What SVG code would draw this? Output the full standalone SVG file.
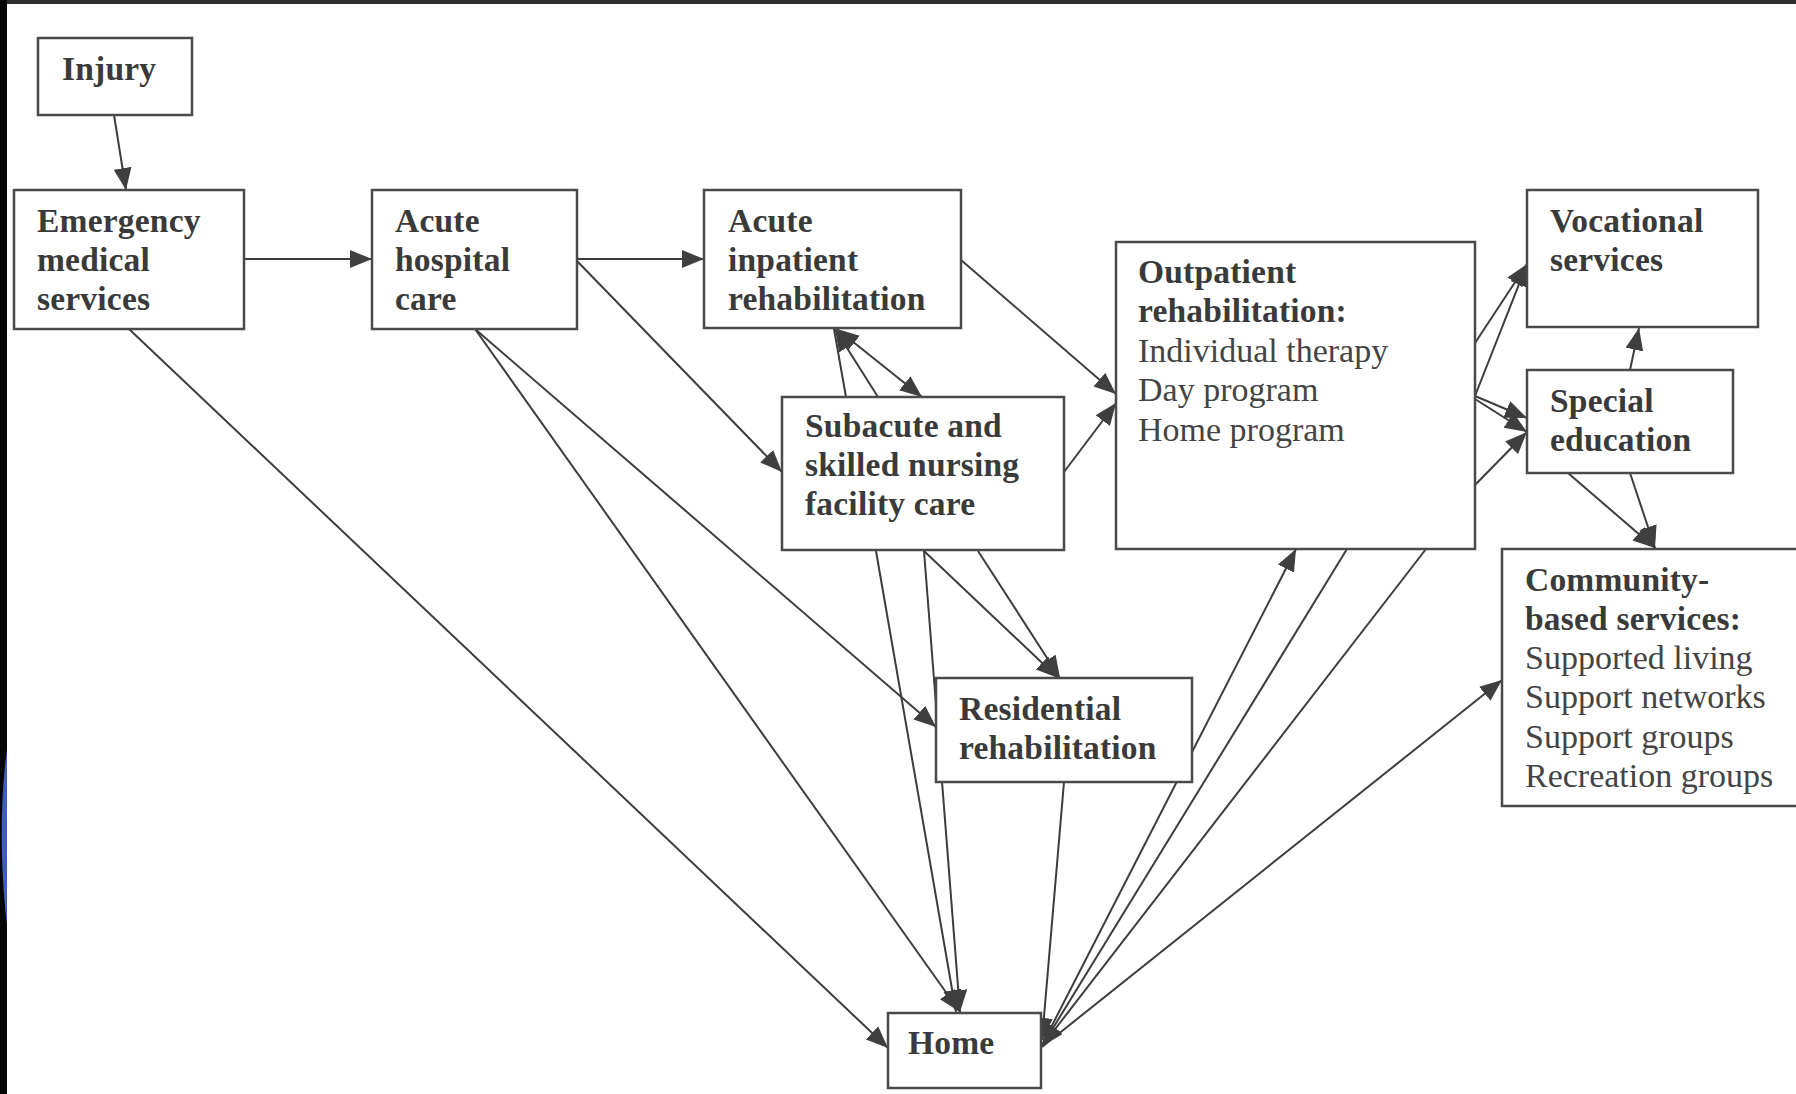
<svg xmlns="http://www.w3.org/2000/svg" width="1796" height="1094" viewBox="0 0 1796 1094">
<defs>
<marker id="ah" markerUnits="userSpaceOnUse" markerWidth="24" markerHeight="20" refX="22" refY="9" orient="auto-start-reverse">
<path d="M0,0 L22,9 L0,18 z" fill="#3f3f3f"/>
</marker>
<style>
.box{fill:#fff;stroke:#4a4a4a;stroke-width:2.5}
.b{font-family:"Liberation Serif","Times New Roman",serif;font-weight:bold;font-size:33.5px;fill:#3a3a3a;letter-spacing:0.2px}
.r{font-family:"Liberation Serif","Times New Roman",serif;font-size:34px;fill:#444}
.e{stroke:#3d3d3d;stroke-width:2;fill:none}
.a{marker-end:url(#ah)}
.d{marker-start:url(#ah);marker-end:url(#ah)}
</style>
</defs>
<rect x="0" y="0" width="1796" height="1094" fill="#fff"/>
<rect x="0" y="0" width="1796" height="4" fill="#2e2e2e"/>
<rect x="0" y="0" width="7" height="1094" fill="#050505"/>
<path d="M7,750 C1,790 -1,860 7,925 L7,750 z" fill="#4a6de0" opacity="0.85"/>

<g id="connectors">
<line class="e a" x1="114" y1="115" x2="126" y2="190"/>
<line class="e a" x1="244" y1="259" x2="372" y2="259"/>
<line class="e a" x1="577" y1="259" x2="704" y2="259"/>
<line class="e a" x1="577" y1="261" x2="782" y2="472"/>
<line class="e a" x1="129" y1="329" x2="888" y2="1048"/>
<line class="e a" x1="475" y1="329" x2="960" y2="1012"/>
<line class="e a" x1="475" y1="329" x2="936" y2="727"/>
<line class="e a" x1="961" y1="260" x2="1116" y2="394"/>
<line class="e" x1="846" y1="397" x2="834" y2="329"/>
<line class="e a" x1="878" y1="397" x2="835" y2="329"/>
<line class="e d" x1="837" y1="329" x2="922" y2="397"/>
<line class="e a" x1="1064" y1="472" x2="1116" y2="403"/>
<line class="e a" x1="876" y1="551" x2="956" y2="1012"/>
<line class="e a" x1="924" y1="551" x2="960" y2="1012"/>
<line class="e a" x1="924" y1="551" x2="1058" y2="678"/>
<line class="e a" x1="978" y1="551" x2="1060" y2="678"/>
<line class="e a" x1="1064" y1="782" x2="1042" y2="1040"/>
<line class="e a" x1="1042" y1="1045" x2="1296" y2="549"/>
<line class="e a" x1="1347" y1="549" x2="1042" y2="1046"/>
<line class="e a" x1="1426" y1="549" x2="1042" y2="1046"/>
<line class="e a" x1="1042" y1="1047" x2="1502" y2="680"/>
<line class="e a" x1="1475" y1="343" x2="1527" y2="264"/>
<line class="e a" x1="1475" y1="396" x2="1527" y2="264"/>
<line class="e a" x1="1475" y1="396" x2="1527" y2="418"/>
<line class="e a" x1="1475" y1="399" x2="1527" y2="432"/>
<line class="e a" x1="1475" y1="485" x2="1527" y2="432"/>
<line class="e a" x1="1630" y1="370" x2="1639" y2="328"/>
<line class="e a" x1="1568" y1="473" x2="1655" y2="548"/>
<line class="e a" x1="1630" y1="473" x2="1655" y2="548"/>
</g>

<g id="injury">
<rect class="box" x="38" y="38" width="154" height="77"/>
<text class="b" x="62" y="80">Injury</text>
</g>
<g id="emergency">
<rect class="box" x="14" y="190" width="230" height="139"/>
<text class="b" x="37" y="232">Emergency</text>
<text class="b" x="37" y="271">medical</text>
<text class="b" x="37" y="310">services</text>
</g>
<g id="acute-hospital">
<rect class="box" x="372" y="190" width="205" height="139"/>
<text class="b" x="395" y="232">Acute</text>
<text class="b" x="395" y="271">hospital</text>
<text class="b" x="395" y="310">care</text>
</g>
<g id="acute-inpatient">
<rect class="box" x="704" y="190" width="257" height="138"/>
<text class="b" x="728" y="232">Acute</text>
<text class="b" x="728" y="271">inpatient</text>
<text class="b" x="728" y="310">rehabilitation</text>
</g>
<g id="subacute">
<rect class="box" x="782" y="397" width="282" height="153"/>
<text class="b" x="805" y="437">Subacute and</text>
<text class="b" x="805" y="476">skilled nursing</text>
<text class="b" x="805" y="515">facility care</text>
</g>
<g id="outpatient">
<rect class="box" x="1116" y="242" width="359" height="307"/>
<text class="b" x="1138" y="283">Outpatient</text>
<text class="b" x="1138" y="322">rehabilitation:</text>
<text class="r" x="1138" y="362">Individual therapy</text>
<text class="r" x="1138" y="401">Day program</text>
<text class="r" x="1138" y="441">Home program</text>
</g>
<g id="vocational">
<rect class="box" x="1527" y="190" width="231" height="137"/>
<text class="b" x="1550" y="232">Vocational</text>
<text class="b" x="1550" y="271">services</text>
</g>
<g id="special-education">
<rect class="box" x="1527" y="370" width="206" height="103"/>
<text class="b" x="1550" y="412">Special</text>
<text class="b" x="1550" y="451">education</text>
</g>
<g id="community">
<rect class="box" x="1502" y="549" width="310" height="257"/>
<text class="b" x="1525" y="591">Community-</text>
<text class="b" x="1525" y="630">based services:</text>
<text class="r" x="1525" y="669">Supported living</text>
<text class="r" x="1525" y="708">Support networks</text>
<text class="r" x="1525" y="748">Support groups</text>
<text class="r" x="1525" y="787">Recreation groups</text>
</g>
<g id="residential">
<rect class="box" x="936" y="678" width="256" height="104"/>
<text class="b" x="959" y="720">Residential</text>
<text class="b" x="959" y="759">rehabilitation</text>
</g>
<g id="home">
<rect class="box" x="888" y="1013" width="153" height="75"/>
<text class="b" x="908" y="1054">Home</text>
</g>
</svg>
